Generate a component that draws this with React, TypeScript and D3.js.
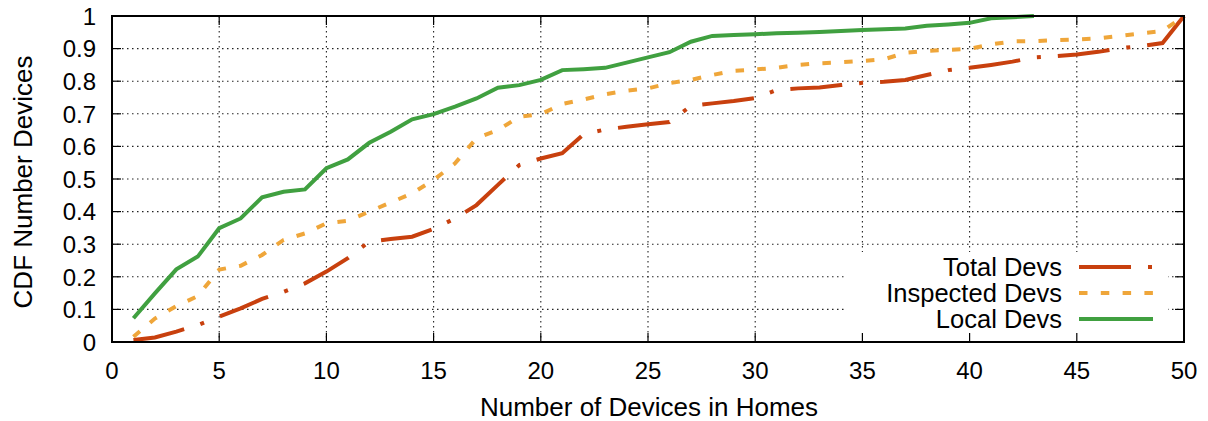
import React from "react";
import * as d3 from "d3";

const devices: number[] = Array.from({ length: 50 }, (_, i) => i + 1);
const totalDevs: number[] = [
  0.006, 0.014, 0.032, 0.052, 0.078, 0.103, 0.132, 0.154, 0.18, 0.216,
  0.257, 0.308, 0.316, 0.323, 0.347, 0.379, 0.42, 0.482, 0.543, 0.563,
  0.579, 0.637, 0.652, 0.66, 0.668, 0.675, 0.724, 0.732, 0.739, 0.748,
  0.773, 0.778, 0.781, 0.788, 0.795, 0.798, 0.804, 0.819, 0.834, 0.841,
  0.85, 0.86, 0.873, 0.877, 0.882, 0.89, 0.901, 0.908, 0.917, 1.0,
];
const inspectedDevs: number[] = [
  0.016, 0.072, 0.11, 0.141, 0.222, 0.234, 0.267, 0.313, 0.333, 0.364,
  0.372, 0.4, 0.428, 0.456, 0.497, 0.548, 0.625, 0.65, 0.691, 0.699,
  0.73, 0.744, 0.76, 0.771, 0.778, 0.794, 0.804, 0.819, 0.832, 0.836,
  0.841, 0.85, 0.855, 0.858, 0.862, 0.867, 0.887, 0.893, 0.896, 0.899,
  0.913, 0.922, 0.923, 0.926, 0.928, 0.931, 0.939, 0.947, 0.954, 1.0,
];
const localDevs: number[] = [
  0.073, 0.149, 0.223, 0.262, 0.349, 0.379, 0.444, 0.461, 0.468, 0.533,
  0.56, 0.611, 0.645, 0.683, 0.699, 0.722, 0.747, 0.78, 0.788, 0.804,
  0.834, 0.837, 0.841, 0.857, 0.873, 0.889, 0.921, 0.939, 0.942, 0.944,
  0.947, 0.949, 0.951, 0.954, 0.957, 0.959, 0.962, 0.97, 0.974, 0.979,
  0.993, 0.996, 1.0,
];
const xTicks: number[] = [0, 5, 10, 15, 20, 25, 30, 35, 40, 45, 50];
const yTicks: number[] = [0, 0.1, 0.2, 0.3, 0.4, 0.5, 0.6, 0.7, 0.8, 0.9, 1];
const seriesNames: string[] = ["Total Devs", "Inspected Devs", "Local Devs"];
const seriesColors: string[] = ["#c8400e", "#efa63a", "#40a040"];
const seriesDash: string[] = ["52,17,4,17", "8.5,13.3", "none"];

const W = 1208;
const H = 421;
const left = 112;
const right = 1184;
const top = 16;
const bottom = 342;
const FONT = "'Liberation Sans', Arial, Helvetica, sans-serif";

export default function App() {
  const x = d3.scaleLinear().domain([0, 50]).range([left, right]);
  const y = d3.scaleLinear().domain([0, 1]).range([bottom, top]);
  const line = d3
    .line<[number, number]>()
    .x((d) => x(d[0]))
    .y((d) => y(d[1]));

  const series = [totalDevs, inspectedDevs, localDevs].map((vals) =>
    vals.map((v, i) => [devices[i], v] as [number, number])
  );

  const legendBox = { x0: 846, x1: 1168, y0: 252 };
  const legendRows = [267, 293, 319];

  return (
    <svg
      width={W}
      height={H}
      style={{ position: "absolute", left: 0, top: 0, background: "#fff" }}
      fontFamily={FONT}
    >
      <rect x={0} y={0} width={W} height={H} fill="#fff" />
      {/* grid */}
      {xTicks
        .filter((t) => t > 0 && t < 50)
        .map((t) => (
          <line
            key={"gx" + t}
            x1={x(t)}
            x2={x(t)}
            y1={top}
            y2={bottom}
            stroke="#222"
            strokeWidth={1.1}
            strokeDasharray="1.5,3.5"
          />
        ))}
      {yTicks
        .filter((t) => t > 0 && t < 1)
        .map((t) => (
          <line
            key={"gy" + t}
            x1={left}
            x2={right}
            y1={y(t)}
            y2={y(t)}
            stroke="#222"
            strokeWidth={1.1}
            strokeDasharray="1.5,3.5"
          />
        ))}
      {/* legend background */}
      <rect
        x={legendBox.x0}
        y={legendBox.y0}
        width={legendBox.x1 - legendBox.x0}
        height={bottom - legendBox.y0}
        fill="#fff"
      />
      {/* ticks */}
      {xTicks.map((t) => (
        <g key={"tx" + t}>
          <line x1={x(t)} x2={x(t)} y1={bottom} y2={bottom - 9} stroke="#000" strokeWidth={1.2} />
          <line x1={x(t)} x2={x(t)} y1={top} y2={top + 9} stroke="#000" strokeWidth={1.2} />
          <text x={x(t)} y={379} textAnchor="middle" fontSize={24} fill="#000">
            {t}
          </text>
        </g>
      ))}
      {yTicks.map((t) => (
        <g key={"ty" + t}>
          <line x1={left} x2={left + 9} y1={y(t)} y2={y(t)} stroke="#000" strokeWidth={1.2} />
          <line x1={right} x2={right - 9} y1={y(t)} y2={y(t)} stroke="#000" strokeWidth={1.2} />
          <text x={96} y={y(t) + 8.7} textAnchor="end" fontSize={24} fill="#000">
            {t}
          </text>
        </g>
      ))}
      {/* series */}
      {series.map((pts, i) => (
        <path
          key={"s" + i}
          d={line(pts) || ""}
          fill="none"
          stroke={seriesColors[i]}
          strokeWidth={4}
          strokeDasharray={seriesDash[i]}
          strokeLinejoin="miter"
        />
      ))}
      {/* frame */}
      <rect
        x={left}
        y={top}
        width={right - left}
        height={bottom - top}
        fill="none"
        stroke="#000"
        strokeWidth={2}
      />
      {/* axis titles */}
      <text x={649} y={416} textAnchor="middle" fontSize={26} fill="#000">
        Number of Devices in Homes
      </text>
      <text
        transform={`translate(32, ${(top + bottom) / 2 + 3}) rotate(-90)`}
        textAnchor="middle"
        fontSize={26}
        fill="#000"
      >
        CDF Number Devices
      </text>
      {/* legend */}
      {seriesNames.map((name, i) => (
        <g key={"lg" + i}>
          <text x={1062} y={legendRows[i] + 9} textAnchor="end" fontSize={25.5} fill="#000">
            {name}
          </text>
          <line
            x1={1079}
            x2={1153}
            y1={legendRows[i]}
            y2={legendRows[i]}
            stroke={seriesColors[i]}
            strokeWidth={4}
            strokeDasharray={seriesDash[i]}
          />
        </g>
      ))}
    </svg>
  );
}
